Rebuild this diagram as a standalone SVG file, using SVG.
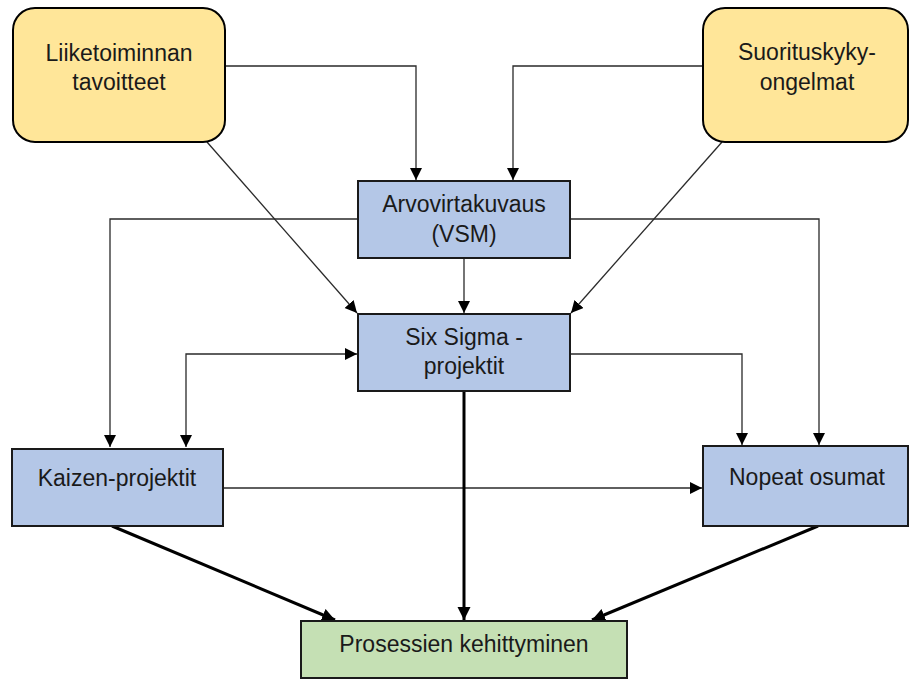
<svg xmlns="http://www.w3.org/2000/svg" width="910" height="680" viewBox="0 0 910 680">
  <defs>
    <style>
      .goal { fill: #FFE699; stroke: #000; stroke-width: 2; }
      .proc { fill: #B4C7E7; stroke: #1a1a1a; stroke-width: 2; }
      .out  { fill: #C5E0B4; stroke: #1a1a1a; stroke-width: 2; }
      .lbl  { font-family: "Liberation Sans", Arial, sans-serif; font-size: 23px; fill: #1a1a1a; text-anchor: middle; }
      .thin { fill: none; stroke: #2a2a2a; stroke-width: 1.3; }
      .thick { fill: none; stroke: #000; stroke-width: 3; }
    </style>
    <marker id="arr" markerUnits="userSpaceOnUse" markerWidth="14" markerHeight="14" refX="12" refY="6" orient="auto">
      <path d="M0,0 L12,6 L0,12 Z" fill="#000"/>
    </marker>
    <marker id="arrStart" markerUnits="userSpaceOnUse" markerWidth="14" markerHeight="14" refX="0" refY="6" orient="auto">
      <path d="M12,0 L0,6 L12,12 Z" fill="#000"/>
    </marker>
    <marker id="arrBig" markerUnits="userSpaceOnUse" markerWidth="16" markerHeight="16" refX="13" refY="6.5" orient="auto">
      <path d="M0,0 L13,6.5 L0,13 Z" fill="#000"/>
    </marker>
  </defs>

  <g id="connectors">
    <!-- inputs into the value stream map -->
    <path class="thin" d="M225,66 H416 V180" marker-end="url(#arr)"/>
    <path class="thin" d="M703,66 H513 V180" marker-end="url(#arr)"/>
    <!-- diagonal inputs into Six Sigma -->
    <path class="thin" d="M207,142 L357,313" marker-end="url(#arr)"/>
    <path class="thin" d="M722,142 L571,313" marker-end="url(#arr)"/>
    <!-- VSM to Six Sigma -->
    <path class="thin" d="M464,258 V313" marker-end="url(#arr)"/>
    <!-- VSM branches -->
    <path class="thin" d="M358,219 H110 V447" marker-end="url(#arr)"/>
    <path class="thin" d="M570,219 H819 V445" marker-end="url(#arr)"/>
    <!-- Six Sigma and Kaizen, both ways -->
    <path class="thin" d="M357,354 H186 V447" marker-start="url(#arrStart)" marker-end="url(#arr)"/>
    <!-- Six Sigma to quick wins -->
    <path class="thin" d="M570,354 H742 V445" marker-end="url(#arr)"/>
    <!-- Kaizen to quick wins -->
    <path class="thin" d="M223,488 H702" marker-end="url(#arr)"/>
    <!-- results into process improvement -->
    <path class="thick" d="M112,526 L335,620" marker-end="url(#arrBig)"/>
    <path class="thick" d="M464,391 V620" marker-end="url(#arrBig)"/>
    <path class="thick" d="M818,526 L592,620" marker-end="url(#arrBig)"/>
  </g>

  <g id="liiketoiminnan-tavoitteet">
    <rect class="goal" x="13" y="8" width="212" height="134" rx="22" ry="22"/>
    <text class="lbl" x="119" y="61">Liiketoiminnan</text>
    <text class="lbl" x="119" y="90">tavoitteet</text>
  </g>

  <g id="suorituskykyongelmat">
    <rect class="goal" x="703" y="8" width="205" height="134" rx="22" ry="22"/>
    <text class="lbl" x="807" y="60">Suorituskyky-</text>
    <text class="lbl" x="807" y="90">ongelmat</text>
  </g>

  <g id="arvovirtakuvaus">
    <rect class="proc" x="358" y="181" width="212" height="77"/>
    <text class="lbl" x="464" y="212">Arvovirtakuvaus</text>
    <text class="lbl" x="464" y="242">(VSM)</text>
  </g>

  <g id="six-sigma">
    <rect class="proc" x="358" y="314" width="212" height="77"/>
    <text class="lbl" x="464" y="345">Six Sigma -</text>
    <text class="lbl" x="464" y="374">projektit</text>
  </g>

  <g id="kaizen">
    <rect class="proc" x="12" y="449" width="211" height="77"/>
    <text class="lbl" x="117" y="486">Kaizen-projektit</text>
  </g>

  <g id="nopeat-osumat">
    <rect class="proc" x="703" y="446" width="205" height="80"/>
    <text class="lbl" x="807" y="485">Nopeat osumat</text>
  </g>

  <g id="prosessien-kehittyminen">
    <rect class="out" x="301" y="621" width="326" height="57"/>
    <text class="lbl" x="464" y="652">Prosessien kehittyminen</text>
  </g>
</svg>
